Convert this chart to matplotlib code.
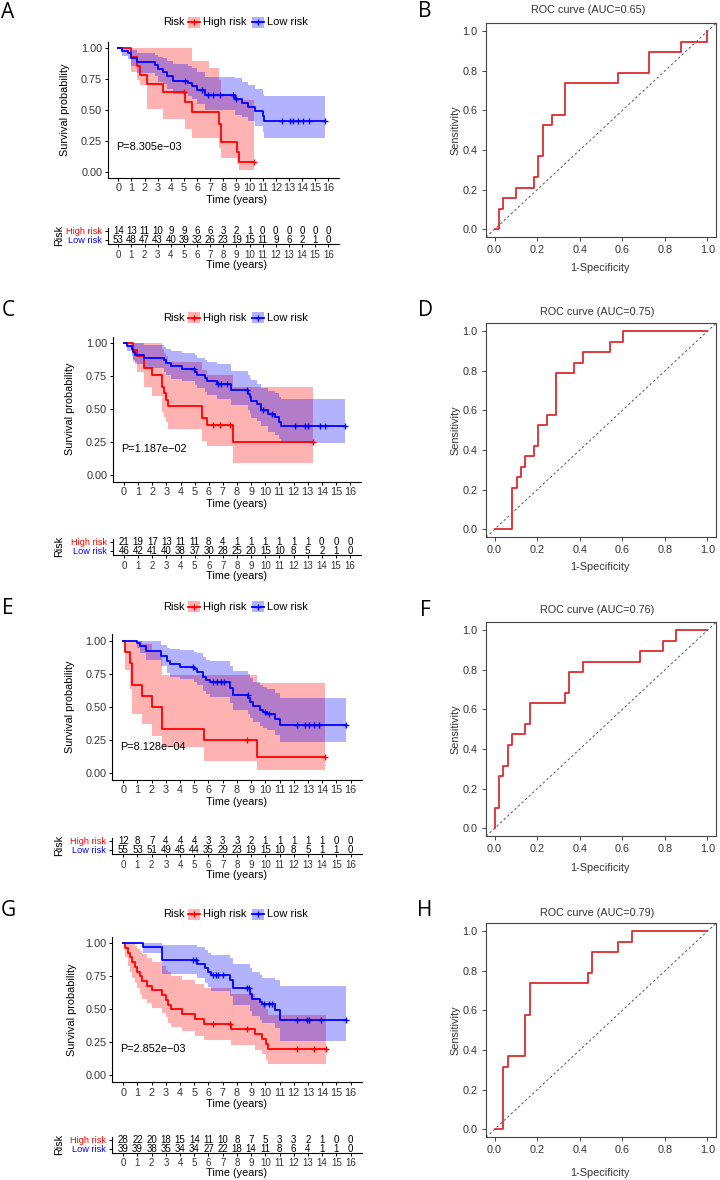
import numpy as np
import matplotlib
matplotlib.use("Agg")
import matplotlib.pyplot as plt
from matplotlib.patches import Rectangle

plt.rcParams['font.family'] = ['Liberation Sans', 'DejaVu Sans']

# ---------------- data ----------------
years = list(range(17))

# Kaplan-Meier curves: step times, survival, lower / upper CI, censored times
A_hi_t = [0, 1.0, 1.4, 1.65, 2.15, 3.4, 5.05, 5.65, 6.9, 7.65, 7.85, 9.05, 9.2, 10.35]
A_hi_s = [1.0, 0.929, 0.857, 0.786, 0.714, 0.643, 0.563, 0.482, 0.482, 0.386, 0.241, 0.161, 0.080, 0.080]
A_hi_lo = [1.0, 0.81, 0.74, 0.70, 0.51, 0.43, 0.35, 0.27, 0.27, 0.19, 0.11, 0.06, 0.015, 0.015]
A_hi_up = [1.0, 1.0, 1.0, 1.0, 1.0, 1.0, 1.0, 0.90, 0.84, 0.74, 0.62, 0.58, 0.58, 0.58]
A_hi_cens = [4.98, 10.35]

A_lo_t = [0, 0.25, 0.75, 1.0, 1.4, 2.8, 3.0, 3.4, 3.7, 4.2, 5.3, 5.6, 6.0, 6.6, 8.9, 9.4, 9.9, 10.4, 11.0, 11.1, 15.75]
A_lo_s = [1.0, 0.981, 0.962, 0.925, 0.887, 0.868, 0.830, 0.811, 0.774, 0.736, 0.717, 0.698, 0.660, 0.621, 0.590, 0.560, 0.525, 0.492, 0.450, 0.410, 0.410]
A_lo_lo = [1.0, 0.94, 0.91, 0.86, 0.80, 0.78, 0.73, 0.71, 0.67, 0.63, 0.61, 0.59, 0.55, 0.50, 0.46, 0.44, 0.41, 0.37, 0.32, 0.27, 0.27]
A_lo_up = [1.0, 1.0, 1.0, 0.99, 0.96, 0.95, 0.93, 0.92, 0.90, 0.87, 0.86, 0.84, 0.81, 0.77, 0.76, 0.73, 0.70, 0.67, 0.63, 0.61, 0.61]
A_lo_cens = [5.1, 6.35, 6.85, 7.25, 7.75, 8.75, 9.0, 12.45, 13.05, 13.3, 13.7, 14.1, 14.5, 15.75]

C_hi_t = [0, 0.65, 0.9, 1.4, 1.95, 2.7, 2.8, 2.95, 3.15, 5.55, 5.85, 7.75, 13.35]
C_hi_s = [1.0, 0.952, 0.905, 0.810, 0.762, 0.667, 0.619, 0.571, 0.524, 0.432, 0.381, 0.254, 0.254]
C_hi_lo = [1.0, 0.86, 0.78, 0.67, 0.60, 0.48, 0.44, 0.40, 0.35, 0.26, 0.22, 0.09, 0.09]
C_hi_up = [1.0, 1.0, 1.0, 1.0, 1.0, 0.96, 0.93, 0.90, 0.86, 0.80, 0.76, 0.67, 0.67]
C_hi_cens = [6.3, 6.8, 7.5, 13.35]

C_lo_t = [0, 0.2, 0.55, 0.65, 0.8, 1.4, 2.8, 3.0, 3.35, 4.1, 5.05, 5.15, 5.75, 5.9, 6.55, 7.6, 8.8, 8.9, 9.0, 9.4, 9.7, 10.2, 10.7, 11.0, 11.1, 15.65]
C_lo_s = [1.0, 0.978, 0.957, 0.935, 0.913, 0.891, 0.870, 0.848, 0.826, 0.804, 0.782, 0.760, 0.738, 0.716, 0.693, 0.642, 0.616, 0.590, 0.565, 0.539, 0.496, 0.466, 0.437, 0.406, 0.375, 0.375]
C_lo_lo = [1.0, 0.94, 0.90, 0.87, 0.84, 0.81, 0.78, 0.76, 0.73, 0.71, 0.68, 0.66, 0.63, 0.61, 0.58, 0.53, 0.49, 0.46, 0.43, 0.41, 0.37, 0.33, 0.30, 0.27, 0.24, 0.24]
C_lo_up = [1.0, 1.0, 1.0, 1.0, 1.0, 0.99, 0.97, 0.96, 0.94, 0.93, 0.91, 0.89, 0.87, 0.86, 0.84, 0.79, 0.76, 0.74, 0.72, 0.69, 0.66, 0.64, 0.62, 0.59, 0.58, 0.58]
C_lo_cens = [4.98, 6.65, 6.9, 7.3, 8.7, 9.85, 10.45, 12.1, 12.8, 13.05, 13.9, 14.25, 15.65]

E_hi_t = [0, 0.15, 0.5, 0.65, 1.3, 2.0, 2.7, 5.65, 9.45, 14.2]
E_hi_s = [1.0, 0.917, 0.833, 0.667, 0.583, 0.500, 0.333, 0.250, 0.125, 0.125]
E_hi_lo = [1.0, 0.78, 0.64, 0.45, 0.37, 0.28, 0.20, 0.095, 0.025, 0.025]
E_hi_up = [1.0, 1.0, 1.0, 1.0, 0.98, 0.93, 0.74, 0.74, 0.68, 0.68]
E_hi_cens = [8.7, 14.2]

E_lo_t = [0, 0.95, 1.2, 1.6, 2.65, 3.05, 3.3, 4.0, 5.0, 5.2, 5.6, 5.85, 6.1, 7.5, 7.7, 8.8, 8.95, 9.1, 9.6, 9.85, 10.1, 10.7, 11.05, 15.7]
E_lo_s = [1.0, 0.982, 0.964, 0.927, 0.888, 0.849, 0.826, 0.806, 0.786, 0.766, 0.727, 0.707, 0.687, 0.641, 0.595, 0.568, 0.541, 0.505, 0.482, 0.460, 0.446, 0.409, 0.365, 0.365]
E_lo_lo = [1.0, 0.95, 0.91, 0.86, 0.81, 0.76, 0.73, 0.71, 0.69, 0.67, 0.62, 0.60, 0.58, 0.53, 0.48, 0.45, 0.42, 0.39, 0.36, 0.34, 0.33, 0.29, 0.24, 0.24]
E_lo_up = [1.0, 1.0, 1.0, 1.0, 0.97, 0.95, 0.94, 0.93, 0.92, 0.91, 0.88, 0.86, 0.85, 0.81, 0.77, 0.75, 0.72, 0.69, 0.67, 0.65, 0.64, 0.61, 0.57, 0.57]
E_lo_cens = [4.9, 6.3, 6.6, 6.85, 7.1, 8.75, 9.95, 10.25, 12.2, 12.8, 13.1, 13.4, 13.8, 15.7]

G_hi_t = [0, 0.15, 0.35, 0.5, 0.65, 0.85, 1.0, 1.2, 1.35, 1.7, 2.0, 2.7, 3.0, 3.15, 3.35, 4.1, 5.05, 5.65, 7.6, 9.3, 9.75, 10.05, 10.2, 14.3]
G_hi_s = [1.0, 0.964, 0.929, 0.893, 0.857, 0.821, 0.786, 0.750, 0.714, 0.679, 0.643, 0.607, 0.571, 0.536, 0.500, 0.464, 0.429, 0.393, 0.354, 0.315, 0.276, 0.236, 0.197, 0.197]
G_hi_lo = [1.0, 0.90, 0.83, 0.78, 0.74, 0.70, 0.66, 0.62, 0.58, 0.55, 0.51, 0.47, 0.44, 0.40, 0.37, 0.34, 0.30, 0.27, 0.23, 0.19, 0.16, 0.12, 0.09, 0.09]
G_hi_up = [1.0, 1.0, 1.0, 1.0, 1.0, 0.98, 0.96, 0.94, 0.92, 0.89, 0.86, 0.83, 0.80, 0.78, 0.75, 0.72, 0.69, 0.66, 0.62, 0.58, 0.54, 0.50, 0.455, 0.455]
G_hi_cens = [6.35, 7.5, 8.7, 12.2, 13.4, 14.3]

G_lo_t = [0, 1.4, 2.7, 5.2, 5.75, 6.0, 6.2, 7.5, 7.75, 8.9, 9.05, 9.6, 9.75, 10.7, 11.0, 15.7]
G_lo_s = [1.0, 0.974, 0.872, 0.845, 0.815, 0.785, 0.758, 0.726, 0.660, 0.620, 0.580, 0.557, 0.540, 0.498, 0.420, 0.420]
G_lo_lo = [1.0, 0.93, 0.77, 0.74, 0.70, 0.67, 0.64, 0.60, 0.53, 0.49, 0.45, 0.42, 0.40, 0.36, 0.26, 0.26]
G_lo_up = [1.0, 1.0, 0.99, 0.97, 0.95, 0.93, 0.91, 0.89, 0.84, 0.81, 0.78, 0.76, 0.74, 0.72, 0.68, 0.68]
G_lo_cens = [4.9, 5.1, 6.3, 6.5, 6.7, 7.0, 8.7, 8.85, 9.9, 10.25, 10.5, 12.2, 12.9, 13.1, 13.9, 15.7]

# numbers at risk, years 0..16
A_hi_n = [14, 13, 11, 10, 9, 9, 6, 6, 3, 2, 1, 0, 0, 0, 0, 0, 0]
A_lo_n = [53, 48, 47, 43, 40, 39, 32, 26, 23, 19, 15, 11, 9, 6, 2, 1, 0]
C_hi_n = [21, 19, 17, 13, 11, 11, 8, 4, 1, 1, 1, 1, 1, 1, 0, 0, 0]
C_lo_n = [46, 42, 41, 40, 38, 37, 30, 28, 25, 20, 15, 10, 8, 5, 2, 1, 0]
E_hi_n = [12, 8, 7, 4, 4, 4, 3, 3, 3, 2, 1, 1, 1, 1, 1, 0, 0]
E_lo_n = [55, 53, 51, 49, 45, 44, 35, 29, 23, 19, 15, 10, 8, 5, 1, 1, 0]
G_hi_n = [28, 22, 20, 18, 15, 14, 11, 10, 8, 7, 5, 3, 3, 2, 1, 0, 0]
G_lo_n = [39, 39, 38, 35, 34, 34, 27, 22, 18, 14, 11, 8, 6, 4, 1, 1, 0]

pvals = ['P=8.305e\u221203', 'P=1.187e\u221202', 'P=8.128e\u221204', 'P=2.852e\u221203']

# ROC curves
B_fpr = [0, 0.019, 0.042, 0.102, 0.186, 0.206, 0.227, 0.269, 0.331, 0.581, 0.727, 0.875, 0.998]
B_tpr = [0, 0.105, 0.158, 0.211, 0.263, 0.368, 0.526, 0.579, 0.737, 0.789, 0.895, 0.947, 1.0]
D_fpr = [0, 0.084, 0.105, 0.125, 0.144, 0.186, 0.206, 0.245, 0.289, 0.373, 0.414, 0.542, 0.602, 1.0]
D_tpr = [0, 0.211, 0.263, 0.316, 0.368, 0.421, 0.526, 0.579, 0.789, 0.842, 0.895, 0.947, 1.0, 1.0]
F_fpr = [0, 0, 0.019, 0.042, 0.061, 0.084, 0.144, 0.167, 0.331, 0.352, 0.414, 0.683, 0.789, 0.85, 1.0]
F_tpr = [0, 0.105, 0.263, 0.316, 0.421, 0.474, 0.526, 0.632, 0.684, 0.789, 0.842, 0.895, 0.947, 1.0, 1.0]
H_fpr = [0, 0.042, 0.061, 0.144, 0.167, 0.4375, 0.456, 0.581, 0.644, 1.0]
H_tpr = [0, 0.316, 0.368, 0.579, 0.737, 0.789, 0.895, 0.947, 1.0, 1.0]
aucs = ['0.65', '0.75', '0.76', '0.79']

# ---------------- style / layout (pixels) ----------------
W, H = 720, 1180
RED, BLUE = '#FF0000', '#0000FF'
ROC_RED = '#DD2B2F'
TXT = '#333333'
FS = 7.8


def add_ax(fig, left, top, right, bottom):
    ax = fig.add_axes([left / W, 1 - bottom / H, (right - left) / W, (bottom - top) / H])
    ax.patch.set_alpha(0)
    return ax


def surv_at(t, s, times):
    idx = np.searchsorted(t, times, side='right') - 1
    return np.asarray(s)[idx]


def km_curve(ax, t, s, lo, up, cens, color):
    ax.fill_between(t, lo, up, step='post', color=color, alpha=0.3, lw=0)
    ax.step(t, s, where='post', color=color, lw=1.3)
    ax.plot(cens, surv_at(t, s, cens), ls='none', marker='+', ms=5, mew=1.0, color=color)


def km_panel(fig, ov, box, curves, pval, ylab_x, leg_y):
    l, t, r, b = box
    ax = add_ax(fig, l, t, r, b)
    for c in curves:
        km_curve(ax, *c)
    ax.set_xlim(-0.8, 16.8)
    ax.set_ylim(-0.05, 1.05)
    ax.set_xticks(years)
    ax.set_yticks([0, 0.25, 0.5, 0.75, 1.0])
    ax.set_yticklabels(['0.00', '0.25', '0.50', '0.75', '1.00'])
    for sp in ('top', 'right'):
        ax.spines[sp].set_visible(False)
    for sp in ('left', 'bottom'):
        ax.spines[sp].set_linewidth(0.8)
    ax.tick_params(length=2.5, width=0.7, pad=1.5, labelsize=FS, labelcolor=TXT)
    ax.text(-0.2, 0.2, pval, fontsize=FS, ha='left', va='center')
    ov.text(ylab_x, (t + b) / 2, 'Survival probability', rotation=90, ha='center', va='center', fontsize=FS)
    ov.text(237, b + 22, 'Time (years)', ha='center', va='center', fontsize=FS)
    # legend on top
    ov.text(163, leg_y, 'Risk', ha='left', va='center', fontsize=8.0)
    for x0, col, lab in ((188, RED, 'High risk'), (252, BLUE, 'Low risk')):
        ov.add_patch(Rectangle((x0, leg_y - 5.5), 12, 11, color=col, alpha=0.3, lw=0))
        ov.plot([x0, x0 + 12], [leg_y, leg_y], color=col, lw=1.3)
        ov.plot([x0 + 6], [leg_y], marker='+', ms=5, mew=1.0, color=col)
        ov.text(x0 + 15, leg_y, lab, ha='left', va='center', fontsize=8.0)


def risk_table(fig, ov, l, r, axis_y, hi_n, lo_n, title_y):
    row = 9.0
    ax = add_ax(fig, l, axis_y - 1.8 * row, r, axis_y)
    ax.set_xlim(-0.8, 16.8)
    ax.set_ylim(0.55, 2.35)
    for x, n in zip(years, hi_n):
        ax.text(x, 2, str(n), ha='center', va='center', fontsize=7.0)
    for x, n in zip(years, lo_n):
        ax.text(x, 1, str(n), ha='center', va='center', fontsize=7.0)
    ax.set_xticks(years)
    ax.set_yticks([1, 2])
    ax.set_yticklabels(['Low risk', 'High risk'])
    for lab, col in zip(ax.get_yticklabels(), (BLUE, RED)):
        lab.set_color(col)
    for sp in ('top', 'right'):
        ax.spines[sp].set_visible(False)
    for sp in ('left', 'bottom'):
        ax.spines[sp].set_linewidth(0.8)
    ax.tick_params(length=2.5, width=0.7, pad=1.5, labelsize=6.6)
    ax.tick_params(axis='x', labelsize=7.0, labelcolor=TXT)
    ov.text(59, axis_y - 8.5, 'Risk', rotation=90, ha='center', va='center', fontsize=7.8)
    ov.text(237, title_y, 'Time (years)', ha='center', va='center', fontsize=FS)


def roc_panel(fig, ov, top, fpr, tpr, auc, title_x, title_y, xlab_y):
    l, r, b = 486, 716, top + 214
    ax = add_ax(fig, l, top, r, b)
    ax.axline((0, 0), (1, 1), color='#555555', lw=0.7, ls=(0, (2.5, 2.5)))
    ax.plot(fpr, tpr, drawstyle='steps-post', color=ROC_RED, lw=1.3)
    ax.set_xlim(-0.04, 1.04)
    ax.set_ylim(-0.04, 1.04)
    ticks = np.round(np.arange(0, 1.01, 0.2), 1)
    ax.set_xticks(ticks)
    ax.set_yticks(ticks)
    ax.set_xticklabels([f'{v:.1f}' for v in ticks])
    ax.set_yticklabels([f'{v:.1f}' for v in ticks])
    for sp in ax.spines.values():
        sp.set_linewidth(0.8)
        sp.set_color('#444444')
    ax.tick_params(length=3, width=0.7, color='#444444', labelsize=7.8, labelcolor=TXT)
    ax.tick_params(axis='x', pad=2.3)
    ax.tick_params(axis='y', pad=3.0)
    ov.text(title_x, title_y, f'ROC curve (AUC={auc})', ha='center', va='center', fontsize=7.8, color=TXT)
    ov.text(600, xlab_y, '1-Specificity', ha='center', va='center', fontsize=7.8, color=TXT)
    ov.text(455, (top + b) / 2, 'Sensitivity', rotation=90, ha='center', va='center', fontsize=7.8, color=TXT)


fig = plt.figure(figsize=(7.2, 11.8), dpi=100)
ov = fig.add_axes([0, 0, 1, 1])
ov.set_xlim(0, W)
ov.set_ylim(H, 0)
ov.axis('off')

km_boxes = [(107.8, 42.2, 338.8, 177.9), (112.7, 336.7, 361.3, 481.6),
            (111.9, 634.4, 361.9, 779.9), (111.9, 936.7, 361.9, 1082.1)]
km_ylab_x = [65, 70, 70, 72]
legend_y = [22, 317.7, 606.7, 914]
table_axis_y = [244, 555, 854, 1152.7]
table_title_y = [265, 576, 875, 1172.7]

km_sets = [
    [(A_hi_t, A_hi_s, A_hi_lo, A_hi_up, A_hi_cens, RED), (A_lo_t, A_lo_s, A_lo_lo, A_lo_up, A_lo_cens, BLUE)],
    [(C_hi_t, C_hi_s, C_hi_lo, C_hi_up, C_hi_cens, RED), (C_lo_t, C_lo_s, C_lo_lo, C_lo_up, C_lo_cens, BLUE)],
    [(E_hi_t, E_hi_s, E_hi_lo, E_hi_up, E_hi_cens, RED), (E_lo_t, E_lo_s, E_lo_lo, E_lo_up, E_lo_cens, BLUE)],
    [(G_hi_t, G_hi_s, G_hi_lo, G_hi_up, G_hi_cens, RED), (G_lo_t, G_lo_s, G_lo_lo, G_lo_up, G_lo_cens, BLUE)],
]
risk_sets = [(A_hi_n, A_lo_n), (C_hi_n, C_lo_n), (E_hi_n, E_lo_n), (G_hi_n, G_lo_n)]

for i in range(4):
    km_panel(fig, ov, km_boxes[i], km_sets[i], pvals[i], km_ylab_x[i], legend_y[i])
    l, _, r, _ = km_boxes[i]
    risk_table(fig, ov, l, r, table_axis_y[i], risk_sets[i][0], risk_sets[i][1], table_title_y[i])

roc_tops = [23.3, 323.3, 622.3, 923.3]
roc_title = [(588, 10), (596.7, 311.7), (596.7, 610), (596.7, 913.3)]
roc_xlab_y = [267.7, 566.7, 868.3, 1173.3]
roc_sets = [(B_fpr, B_tpr), (D_fpr, D_tpr), (F_fpr, F_tpr), (H_fpr, H_tpr)]
for i in range(4):
    roc_panel(fig, ov, roc_tops[i], roc_sets[i][0], roc_sets[i][1], aucs[i],
              roc_title[i][0], roc_title[i][1], roc_xlab_y[i])

# panel letters
letters = [('A', 8, 12.5), ('B', 425, 11.7), ('C', 8, 310), ('D', 425, 311),
           ('E', 8, 608.5), ('F', 425, 610), ('G', 8, 910), ('H', 425, 910)]
for s, x, y in letters:
    ov.text(x, y, s, ha='center', va='center', fontsize=15, family=['Open Sans', 'DejaVu Sans'])

fig.savefig('out.png', dpi=100)
